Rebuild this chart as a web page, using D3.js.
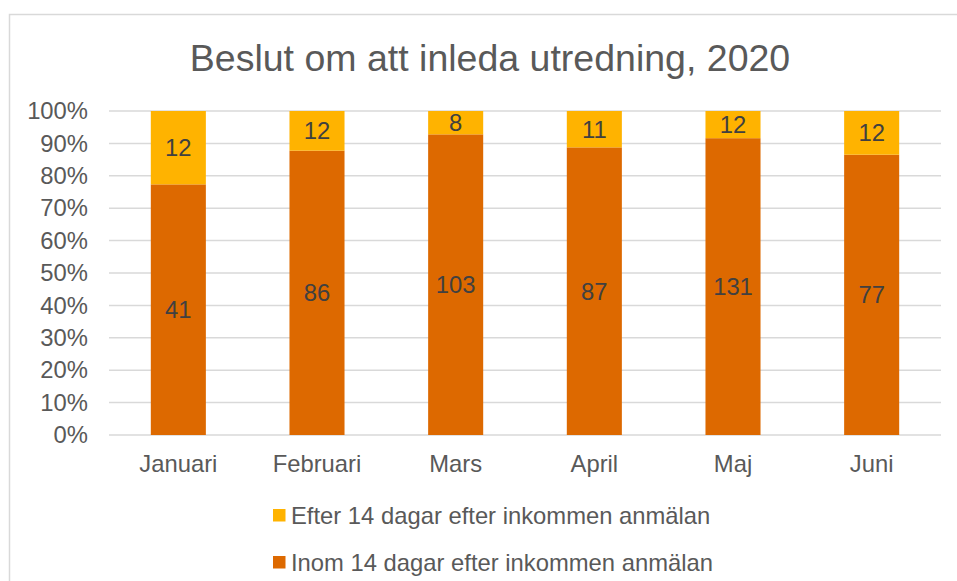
<!DOCTYPE html>
<html>
<head>
<meta charset="utf-8">
<script src="https://cdn.jsdelivr.net/npm/d3@7"></script>
<style>
  body { margin: 0; background: #fff; }
  text { font-family: "Liberation Sans", Arial, sans-serif; }
</style>
</head>
<body>
<div id="chart"></div>
<script>
let w = 957;
let h = 581;

// data
let months = ["Januari", "Februari", "Mars", "April", "Maj", "Juni"];
let inom = [41, 86, 103, 87, 131, 77];
let efter = [12, 12, 8, 11, 12, 12];
let seriesNames = ["Inom 14 dagar efter inkommen anmälan", "Efter 14 dagar efter inkommen anmälan"];
let yTicks = [0, 0.1, 0.2, 0.3, 0.4, 0.5, 0.6, 0.7, 0.8, 0.9, 1];

let colors = { inom: "#DD6900", efter: "#FFB300" };
let fs = 23.8;

let viz = d3.select("#chart")
  .append("svg")
  .attr("width", w)
  .attr("height", h);

// outer chart frame (runs off the right/bottom edge)
viz.append("rect")
  .attr("x", 9.5)
  .attr("y", 14.5)
  .attr("width", 1000)
  .attr("height", 700)
  .attr("fill", "none")
  .attr("stroke", "#d9d9d9")
  .attr("stroke-width", 1.5);

// title
viz.append("text")
  .attr("x", 490)
  .attr("y", 71)
  .attr("text-anchor", "middle")
  .attr("font-size", 37.5)
  .attr("fill", "#595959")
  .text("Beslut om att inleda utredning, 2020");

let table = months.map((m, i) => ({ month: m, inom: inom[i], efter: efter[i] }));
let stacked = d3.stack().keys(["inom", "efter"]).offset(d3.stackOffsetExpand)(table);

let plotLeft = 109, plotRight = 941, plotTop = 111, plotBottom = 435;

let xScale = d3.scaleBand().domain(months).range([plotLeft, plotRight]);
let yScale = d3.scaleLinear().domain([0, 1]).range([plotBottom, plotTop]);
let barW = xScale.bandwidth() * 0.397;

// gridlines
viz.append("g")
  .selectAll("line")
  .data(yTicks)
  .enter()
  .append("line")
  .attr("x1", plotLeft)
  .attr("x2", plotRight)
  .attr("y1", d => yScale(d))
  .attr("y2", d => yScale(d))
  .attr("stroke", "#d9d9d9")
  .attr("stroke-width", 1.5);

// y axis labels
let yAxis = d3.axisLeft(yScale)
  .tickValues(yTicks)
  .tickFormat(d3.format(".0%"))
  .tickSize(0)
  .tickPadding(21);
let yAxisGroup = viz.append("g")
  .attr("transform", "translate(" + plotLeft + ",0)")
  .call(yAxis);
yAxisGroup.select(".domain").remove();
yAxisGroup.selectAll("text")
  .attr("font-size", fs)
  .attr("font-family", "Liberation Sans, Arial, sans-serif")
  .attr("fill", "#595959");

// x axis labels
let xAxis = d3.axisBottom(xScale).tickSize(0).tickPadding(20);
let xAxisGroup = viz.append("g")
  .attr("transform", "translate(0," + plotBottom + ")")
  .call(xAxis);
xAxisGroup.select(".domain").remove();
xAxisGroup.selectAll("text")
  .attr("font-size", fs)
  .attr("font-family", "Liberation Sans, Arial, sans-serif")
  .attr("fill", "#595959");

// bars
let layers = viz.selectAll(".layer").data(stacked).enter()
  .append("g")
  .attr("class", "layer")
  .attr("fill", d => colors[d.key]);

layers.selectAll("rect")
  .data(d => d)
  .enter()
  .append("rect")
  .attr("x", d => xScale(d.data.month) + xScale.bandwidth() / 2 - barW / 2)
  .attr("width", barW)
  .attr("y", d => yScale(d[1]))
  .attr("height", d => yScale(d[0]) - yScale(d[1]));

// value labels
layers.selectAll("text")
  .data(d => d.map(p => ({ p: p, key: d.key })))
  .enter()
  .append("text")
  .attr("x", d => xScale(d.p.data.month) + xScale.bandwidth() / 2)
  .attr("y", d => (yScale(d.p[0]) + yScale(d.p[1])) / 2)
  .attr("dy", "0.36em")
  .attr("text-anchor", "middle")
  .attr("font-size", fs)
  .attr("fill", "#404040")
  .text(d => d.p.data[d.key]);

// legend (Efter on top)
let legendItems = [
  { name: seriesNames[1], color: colors.efter },
  { name: seriesNames[0], color: colors.inom }
];
let legend = viz.selectAll(".legend").data(legendItems).enter()
  .append("g")
  .attr("class", "legend")
  .attr("transform", (d, i) => "translate(273," + (509 + i * 47) + ")");
legend.append("rect")
  .attr("width", 12.5)
  .attr("height", 12.5)
  .attr("fill", d => d.color);
legend.append("text")
  .attr("x", 18)
  .attr("y", 14.5)
  .attr("font-size", fs)
  .attr("fill", "#595959")
  .text(d => d.name);
</script>
</body>
</html>
